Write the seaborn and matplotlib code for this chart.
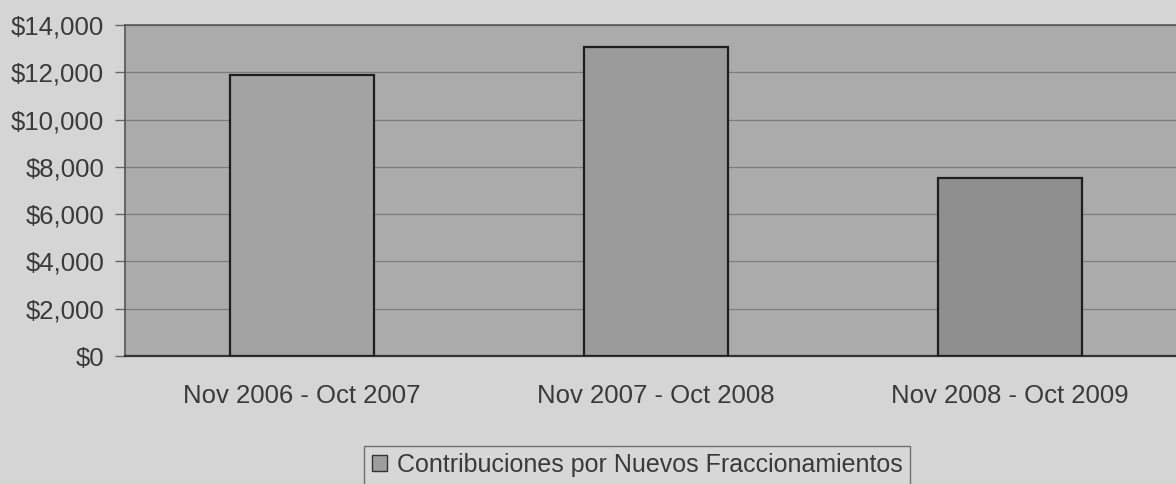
import pandas as pd
import seaborn as sns
import matplotlib.pyplot as plt
from matplotlib.patches import Patch
from matplotlib.ticker import FuncFormatter

# Data
periods = ['Nov 2006 - Oct 2007', 'Nov 2007 - Oct 2008', 'Nov 2008 - Oct 2009']
contribuciones = [11880, 13060, 7520]
bar_colors = ['#a3a3a3', '#9b9b9b', '#8f8f8f']
series_name = 'Contribuciones por Nuevos Fraccionamientos'

df = pd.DataFrame({'periodo': periods, 'monto': contribuciones})

sns.set_theme(style='white')
plt.rcParams['font.family'] = ['Liberation Sans', 'DejaVu Sans']

fig = plt.figure(figsize=(11.76, 4.84), dpi=100, facecolor='#d5d5d5')
# plot area runs off the right edge, as in the scanned page
ax = fig.add_axes([125 / 1176, 1 - 356 / 484, 1062 / 1176, 331 / 484])
ax.set_facecolor('#ababab')

sns.barplot(data=df, x='periodo', y='monto', hue='periodo', palette=bar_colors,
            width=0.405, edgecolor='#1e1e1e', linewidth=1.6, legend=False, ax=ax, zorder=3)

ax.set_xlim(-0.5, 2.5)
ax.set_ylim(0, 14000)
ax.set_yticks(range(0, 14001, 2000))
ax.yaxis.set_major_formatter(FuncFormatter(lambda v, p: f'${v:,.0f}'))
ax.grid(axis='y', color='#7c7c7c', linewidth=0.9, zorder=0)
ax.set_xlabel('')
ax.set_ylabel('')

for side in ['top', 'left', 'bottom']:
    ax.spines[side].set_visible(True)
    ax.spines[side].set_color('#555555')
    ax.spines[side].set_linewidth(1.2)
ax.spines['right'].set_visible(False)
ax.spines['bottom'].set_color('#333333')
ax.spines['bottom'].set_linewidth(1.6)

fs = 18.5
ax.tick_params(axis='y', left=True, length=7, width=1, color='#666666',
               labelsize=fs, labelcolor='#3a3a3a', pad=8)
ax.tick_params(axis='x', bottom=False, labelsize=fs, labelcolor='#3a3a3a', pad=14)

handle = Patch(facecolor='#9e9e9e', edgecolor='#333333', linewidth=1)
leg = fig.legend([handle], [series_name], loc='center', bbox_to_anchor=(637 / 1176, 1 - 465 / 484),
                 frameon=True, fancybox=False, fontsize=18, handlelength=0.6, handleheight=0.6,
                 handletextpad=0.4, borderpad=0.3, borderaxespad=0, labelcolor='#3a3a3a')
leg.get_frame().set_facecolor('#d8d8d8')
leg.get_frame().set_edgecolor('#555555')
leg.get_frame().set_linewidth(1)

fig.savefig('out.png', dpi=100, facecolor=fig.get_facecolor())
plt.close(fig)
